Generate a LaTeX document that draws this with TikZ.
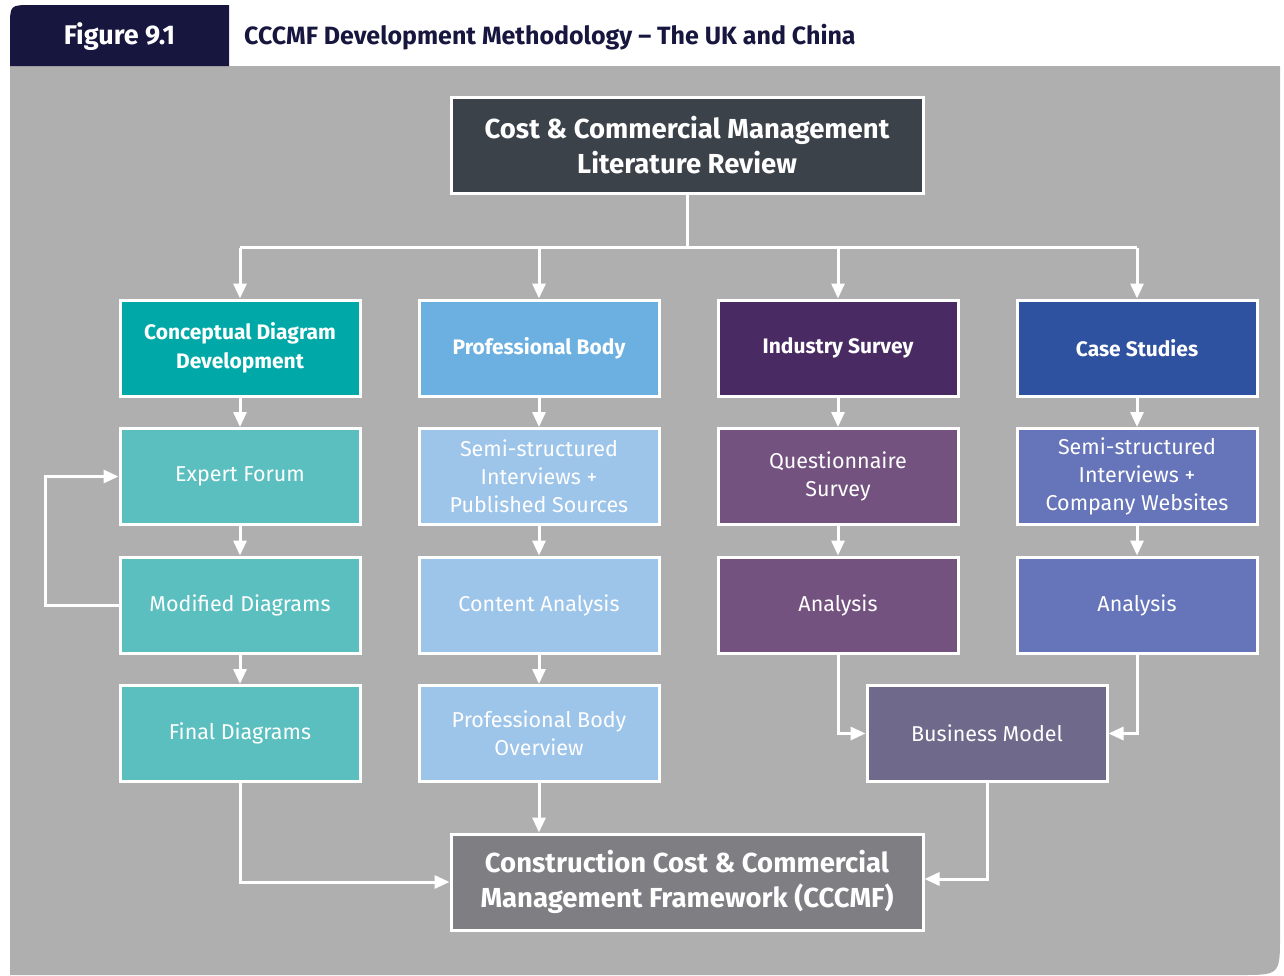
\documentclass[tikz,border=0pt]{standalone}
\usepackage{fontspec}
\setmainfont{Fira Sans}
\usetikzlibrary{arrows.meta,positioning,calc}
\definecolor{panelgrey}{HTML}{AFAFAF}
\definecolor{headnavy}{HTML}{16163F}
\definecolor{slate}{HTML}{3C424A}
\definecolor{tealdark}{HTML}{00A9A8}
\definecolor{teallight}{HTML}{5BBFBF}
\definecolor{bluemid}{HTML}{6CB0E1}
\definecolor{bluelight}{HTML}{9DC4E9}
\definecolor{purpledark}{HTML}{4A2A62}
\definecolor{purplemid}{HTML}{73527F}
\definecolor{navyblue}{HTML}{2E51A0}
\definecolor{periwinkle}{HTML}{6674B9}
\definecolor{bizgrey}{HTML}{6F6A8B}
\definecolor{framegrey}{HTML}{7F7E83}
\tikzset{>={Triangle[length=15pt,width=13pt]}}
\tikzset{
  box/.style={draw=white, line width=3pt, text=white, align=center,
    minimum width=240pt, minimum height=96pt, inner sep=2pt,
    font=\fontsize{21.5}{28}\selectfont},
  headbox/.style={box, font=\fontsize{21}{29}\selectfont\bfseries},
  bigbox/.style={box, minimum width=472pt,
    font=\fontsize{27.5}{35}\selectfont\bfseries},
  link/.style={draw=white, line width=3pt},
  arrow/.style={link, ->}
}
\begin{document}
\begin{tikzpicture}[x=1pt,y=-1pt]
  \useasboundingbox (0,0) rectangle (1284,975);
  % panel and header tab
  \fill[panelgrey] (10,66) -- (1280,66) -- (1280,935)
    .. controls (1280,975) .. (1240,975) -- (10,975) -- cycle;
  \fill[headnavy] (10,66) -- (10,27) .. controls (10,5) .. (32,5)
    -- (229,5) -- (229,66) -- cycle;
  \node[text=white, font=\fontsize{27}{30}\selectfont\bfseries] (fignum)
    at (119.5,37) {Figure 9.1};
  \node[anchor=west, text=headnavy, inner sep=0pt,
    font=\fontsize{25}{28}\selectfont\bfseries] (figtitle)
    at (244,37) {CCCMF Development Methodology -- The UK and China};

  % boxes
  \node[bigbox, fill=slate] (litreview) at (687,145)
    {Cost \& Commercial Management\\Literature Review};

  \node[headbox, fill=tealdark] (concept) at (240,348)
    {Conceptual Diagram\\Development};
  \node[headbox, fill=bluemid] (profbody) at (539,348) {Professional Body};
  \node[headbox, fill=purpledark] (survey) at (838,348) {Industry Survey};
  \node[headbox, fill=navyblue] (cases) at (1137,348) {Case Studies};

  \node[box, fill=teallight] (forum) at (240,476.5) {Expert Forum};
  \node[box, fill=bluelight] (semiprof) at (539,476.5)
    {Semi-structured\\Interviews +\\Published Sources};
  \node[box, fill=purplemid] (questionnaire) at (838,476.5)
    {Questionnaire\\Survey};
  \node[box, fill=periwinkle] (semicase) at (1137,476.5)
    {Semi-structured\\Interviews +\\Company Websites};

  \node[box, fill=teallight] (modified) at (240,605) {Modified Diagrams};
  \node[box, fill=bluelight] (content) at (539,605) {Content Analysis};
  \node[box, fill=purplemid] (surveyanalysis) at (838,605) {Analysis};
  \node[box, fill=periwinkle] (caseanalysis) at (1137,605) {Analysis};

  \node[box, fill=teallight] (final) at (240,733.5) {Final Diagrams};
  \node[box, fill=bluelight] (overview) at (539,733.5)
    {Professional Body\\Overview};
  \node[box, fill=bizgrey] (business) at (987,733.5) {Business Model};

  \node[bigbox, fill=framegrey] (cccmf) at (687,882)
    {Construction Cost \& Commercial\\Management Framework (CCCMF)};

  % connectors
  \draw[link] (litreview.south) -- ++(0,53) coordinate (split);
  \draw[link] (concept.north |- split) -- (cases.north |- split);
  \foreach \col in {concept,profbody,survey,cases}
    \draw[arrow] (\col.north |- split) -- (\col.north);
  \draw[arrow] (concept) -- (forum);
  \draw[arrow] (forum) -- (modified);
  \draw[arrow] (modified) -- (final);
  \draw[arrow] (modified.west) -- ++(-73,0) |- (forum.west);
  \draw[arrow] (profbody) -- (semiprof);
  \draw[arrow] (semiprof) -- (content);
  \draw[arrow] (content) -- (overview);
  \draw[arrow] (survey) -- (questionnaire);
  \draw[arrow] (questionnaire) -- (surveyanalysis);
  \draw[arrow] (cases) -- (semicase);
  \draw[arrow] (semicase) -- (caseanalysis);
  \draw[arrow] (surveyanalysis.south) |- (business.west);
  \draw[arrow] (caseanalysis.south) |- (business.east);
  \draw[arrow] (final.south) |- (cccmf.west);
  \draw[arrow] (overview.south) -- (overview.south |- cccmf.north);
  \draw[arrow] (business.south) |- ($(cccmf.east)+(0,-3)$);
\end{tikzpicture}
\end{document}
